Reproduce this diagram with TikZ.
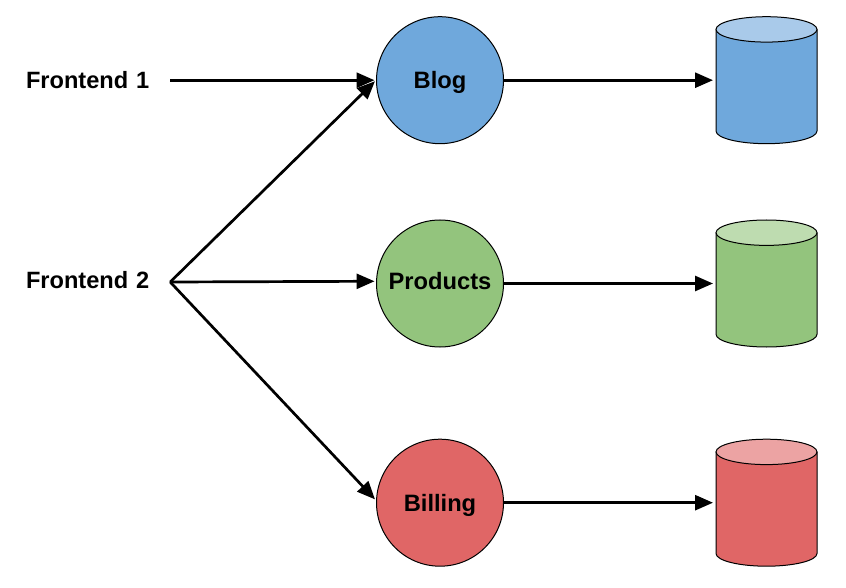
\documentclass[tikz,border=0pt]{standalone}
\usepackage{fontspec}
\setmainfont{Liberation Sans}
\usetikzlibrary{arrows.meta}
\definecolor{blogfill}{HTML}{6FA8DC}
\definecolor{blogtop}{HTML}{A9CAEA}
\definecolor{productsfill}{HTML}{93C47D}
\definecolor{productstop}{HTML}{BEDCB0}
\definecolor{billingfill}{HTML}{E06666}
\definecolor{billingtop}{HTML}{ECA3A3}
\tikzset{
    frontend/.style={inner sep=0pt, text width=144pt, align=left, text height=17pt, font=\fontsize{23.6}{26}\selectfont\bfseries},
    service/.style={circle, draw, line width=1pt, inner sep=0pt, minimum size=127pt, text height=18pt, font=\fontsize{23.7}{26}\selectfont\bfseries},
    database/.style={rectangle, inner sep=0pt, outer sep=0pt, minimum width=101pt, minimum height=127pt},
    dbline/.style={line width=1pt, line join=round},
    link/.style={line width=2.7pt, line join=round, -{Triangle[length=18pt, width=15pt]}, shorten >=1.5pt}
}
\newcommand{\dbcylinder}[5]{
    \node[database] (#1) at (#2,#3) {};
    \begin{scope}[shift={(#2,#3)}]
        \draw[dbline, fill=#4] (-50.5,-50.8) -- (-50.5,50.8) .. controls (-50.5,57.8) and (-27.9,63.5) .. (0,63.5) .. controls (27.9,63.5) and (50.5,57.8) .. (50.5,50.8) -- (50.5,-50.8) -- cycle;
        \draw[dbline, fill=#5] (-50.5,-50.8) .. controls (-50.5,-57.8) and (-27.9,-63.5) .. (0,-63.5) .. controls (27.9,-63.5) and (50.5,-57.8) .. (50.5,-50.8) .. controls (50.5,-43.8) and (27.9,-38.1) .. (0,-38.1) .. controls (-27.9,-38.1) and (-50.5,-43.8) .. cycle;
    \end{scope}
}
\begin{document}
\begin{tikzpicture}[x=1pt, y=-1pt]
        \useasboundingbox (0,0) rectangle (846,588);

        %FRONTENDS
        \node[frontend, text depth=0pt] (frontendA) at (98,80.2) {Frontend 1};
        \node[frontend, text depth=3.5pt] (frontendB) at (98,282) {Frontend 2};

        %SERVICES
        \node[service, text depth=1pt, fill=blogfill] (blog) at (440,80.2) {Blog};
        \node[service, text depth=6.5pt, fill=productsfill] (products) at (440,283.5) {Products};
        \node[service, text depth=1pt, fill=billingfill] (billing) at (440,502.7) {Billing};

        %DATABASES
        \dbcylinder{blogdb}{766.5}{80.2}{blogfill}{blogtop}
        \dbcylinder{productsdb}{766.5}{283.5}{productsfill}{productstop}
        \dbcylinder{billingdb}{766.5}{502.7}{billingfill}{billingtop}

        %LINKS
        \draw[link] (frontendA.east) -- (blog.west);
        \draw[link] (frontendB.east) -- (blog.west);
        \draw[link] (frontendB.east) -- (products.178.6);
        \draw[link] (frontendB.east) -- (billing.178);
        \draw[link, shorten >=3pt] (blog.east) -- (blogdb.west);
        \draw[link, shorten >=3pt] (products.east) -- (productsdb.west);
        \draw[link, shorten >=3pt] (billing.east) -- (billingdb.west);
    \end{tikzpicture}
\end{document}
